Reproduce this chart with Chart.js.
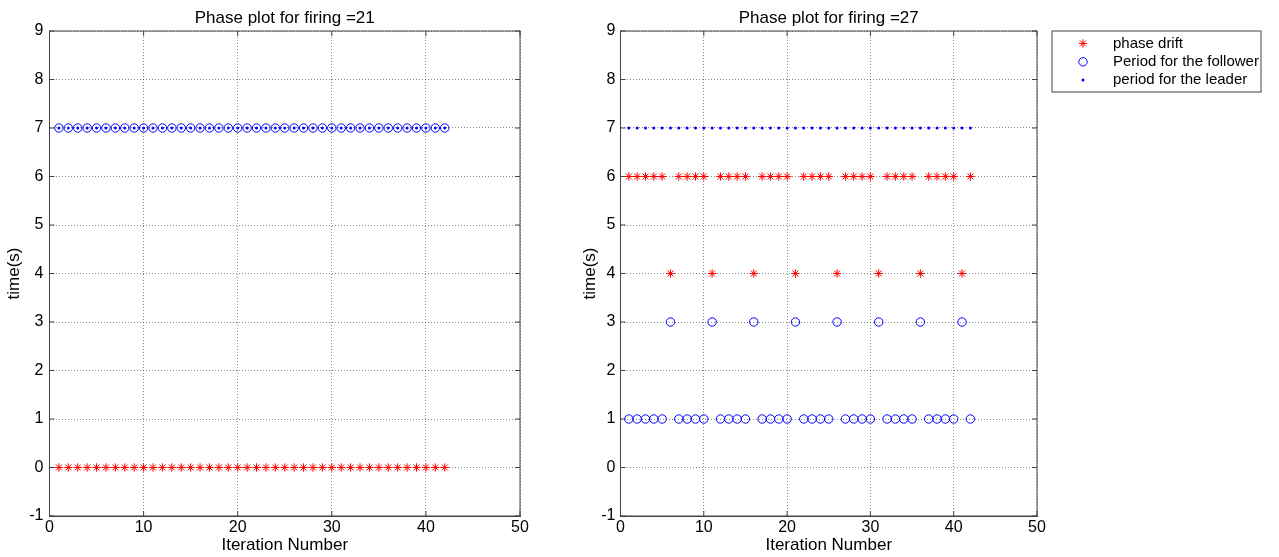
<!DOCTYPE html>
<html>
<head>
<meta charset="utf-8">
<script src="https://cdn.jsdelivr.net/npm/chart.js@4.4.1/dist/chart.umd.min.js"></script>
<style>
  body { margin: 0; background: #fff; }
  #wrap { position: relative; width: 1279px; height: 557px; }
  .panel { position: absolute; top: 0; height: 557px; }
  #left { left: 0; width: 560px; }
  #right { left: 560px; width: 719px; }
</style>
</head>
<body>
<div id="wrap">
  <div class="panel" id="left"><canvas id="leftChart"></canvas></div>
  <div class="panel" id="right"><canvas id="rightChart"></canvas></div>
</div>
<script>
// DATA
const iterations = [1,2,3,4,5,6,7,8,9,10,11,12,13,14,15,16,17,18,19,20,21,
                    22,23,24,25,26,27,28,29,30,31,32,33,34,35,36,37,38,39,40,41,42];
const xTicks = [0, 10, 20, 30, 40, 50];
const yTicks = [-1, 0, 1, 2, 3, 4, 5, 6, 7, 8, 9];

// firing = 21
const leftDrift = [0,0,0,0,0,0,0,0,0,0,0,0,0,0,0,0,0,0,0,0,0,
                   0,0,0,0,0,0,0,0,0,0,0,0,0,0,0,0,0,0,0,0,0];
const leftFollower = [7,7,7,7,7,7,7,7,7,7,7,7,7,7,7,7,7,7,7,7,7,
                      7,7,7,7,7,7,7,7,7,7,7,7,7,7,7,7,7,7,7,7,7];
const leftLeader = [7,7,7,7,7,7,7,7,7,7,7,7,7,7,7,7,7,7,7,7,7,
                    7,7,7,7,7,7,7,7,7,7,7,7,7,7,7,7,7,7,7,7,7];

// firing = 27
const rightDrift = [6,6,6,6,6,4, 6,6,6,6,4, 6,6,6,6,4, 6,6,6,6,4,
                    6,6,6,6,4, 6,6,6,6,4, 6,6,6,6,4, 6,6,6,6,4, 6];
const rightFollower = [1,1,1,1,1,3, 1,1,1,1,3, 1,1,1,1,3, 1,1,1,1,3,
                       1,1,1,1,3, 1,1,1,1,3, 1,1,1,1,3, 1,1,1,1,3, 1];
const rightLeader = [7,7,7,7,7,7,7,7,7,7,7,7,7,7,7,7,7,7,7,7,7,
                     7,7,7,7,7,7,7,7,7,7,7,7,7,7,7,7,7,7,7,7,7];

const seriesLabels = ['phase drift', 'Period for the follower', 'period for the leader'];

Chart.defaults.font.family = "'Liberation Sans', Arial, sans-serif";
Chart.defaults.color = '#000';

function points(ys) {
  return iterations.map(function(x, i) { return {x: x, y: ys[i]}; });
}

function makeDatasets(drift, follower, leader) {
  return [{
    label: seriesLabels[0],
    data: points(drift),
    pointStyle: 'star',
    pointRadius: 4.2,
    borderWidth: 1,
    borderColor: '#ff0000',
    backgroundColor: '#ff0000'
  }, {
    label: seriesLabels[1],
    data: points(follower),
    pointStyle: 'circle',
    pointRadius: 4.2,
    borderWidth: 1,
    borderColor: '#0000ff',
    backgroundColor: 'rgba(0,0,0,0)'
  }, {
    label: seriesLabels[2],
    data: points(leader),
    pointStyle: 'circle',
    pointRadius: 1.5,
    borderWidth: 0,
    borderColor: '#0000ff',
    backgroundColor: '#0000ff'
  }];
}

// box round the axes with inward ticks, like matlab
const boxPlugin = {
  id: 'matlabBox',
  afterDraw(chart) {
    const ctx = chart.ctx;
    const a = chart.chartArea;
    const x = chart.scales.x, y = chart.scales.y;
    ctx.save();
    ctx.strokeStyle = '#444';
    ctx.lineWidth = 1;
    ctx.strokeRect(a.left, a.top, a.right - a.left, a.bottom - a.top);
    ctx.beginPath();
    xTicks.forEach(function(v) {
      const px = x.getPixelForValue(v);
      ctx.moveTo(px, a.bottom); ctx.lineTo(px, a.bottom - 5);
      ctx.moveTo(px, a.top); ctx.lineTo(px, a.top + 5);
    });
    yTicks.forEach(function(v) {
      const py = y.getPixelForValue(v);
      ctx.moveTo(a.left, py); ctx.lineTo(a.left + 5, py);
      ctx.moveTo(a.right, py); ctx.lineTo(a.right - 5, py);
    });
    ctx.stroke();
    ctx.restore();
  }
};

// legend box to the right of the plot
const legendPlugin = {
  id: 'boxLegend',
  afterDraw(chart) {
    const ctx = chart.ctx;
    const a = chart.chartArea;
    const bx = a.right + 15, by = a.top, bw = 209, bh = 61;
    ctx.save();
    ctx.fillStyle = '#fff';
    ctx.fillRect(bx, by, bw, bh);
    ctx.strokeStyle = '#444';
    ctx.lineWidth = 1;
    ctx.strokeRect(bx, by, bw, bh);
    ctx.font = "15px 'Liberation Sans', Arial, sans-serif";
    ctx.textBaseline = 'middle';
    chart.data.datasets.forEach(function(ds, i) {
      const ry = by + 12.5 + i * 18.3;
      ctx.fillStyle = ds.backgroundColor;
      ctx.strokeStyle = ds.borderColor;
      ctx.lineWidth = ds.borderWidth;
      Chart.helpers.drawPoint(ctx, {
        pointStyle: ds.pointStyle, radius: ds.pointRadius,
        rotation: 0, borderWidth: ds.borderWidth
      }, bx + 31, ry);
      ctx.fillStyle = '#000';
      ctx.fillText(ds.label, bx + 61, ry);
    });
    ctx.restore();
  }
};

function makeOptions(titleText, yWidth, yTitlePad, yTickPad, padRight) {
  return {
    responsive: true,
    maintainAspectRatio: false,
    animation: false,
    layout: { padding: { left: 0, right: padRight, top: 0, bottom: 0 } },
    plugins: {
      legend: { display: false },
      tooltip: { enabled: false },
      title: {
        display: true,
        text: titleText,
        fullSize: false,
        font: { size: 17, weight: 'normal' },
        padding: { top: 8.6, bottom: 2 }
      }
    },
    scales: {
      x: {
        type: 'linear',
        min: 0,
        max: 50,
        afterBuildTicks: function(s) { s.ticks = xTicks.map(function(v) { return {value: v}; }); },
        afterFit: function(s) { s.height = 41; },
        grid: { color: 'rgba(0,0,0,0.45)', lineWidth: 1, drawTicks: false },
        border: { color: '#444', dash: [1, 2] },
        ticks: { padding: 2, font: { size: 16 }, maxRotation: 0 },
        title: { display: true, text: 'Iteration Number', font: { size: 17 }, padding: { top: 0, bottom: 1.7 } }
      },
      y: {
        type: 'linear',
        min: -1,
        max: 9,
        afterBuildTicks: function(s) { s.ticks = yTicks.map(function(v) { return {value: v}; }); },
        afterFit: function(s) { s.width = yWidth; },
        grid: { color: 'rgba(0,0,0,0.45)', lineWidth: 1, drawTicks: false },
        border: { color: '#444', dash: [1, 2] },
        ticks: { padding: yTickPad, font: { size: 16 } },
        title: { display: true, text: 'time(s)', font: { size: 17 }, padding: { top: yTitlePad, bottom: 0 } }
      }
    }
  };
}

new Chart(document.getElementById('leftChart'), {
  type: 'scatter',
  data: { datasets: makeDatasets(leftDrift, leftFollower, leftLeader) },
  options: makeOptions('Phase plot for firing =21', 49.5, 3.8, 6, 40),
  plugins: [boxPlugin]
});

new Chart(document.getElementById('rightChart'), {
  type: 'scatter',
  data: { datasets: makeDatasets(rightDrift, rightFollower, rightLeader) },
  options: makeOptions('Phase plot for firing =27', 60.5, 19.8, 5, 242),
  plugins: [boxPlugin, legendPlugin]
});
</script>
</body>
</html>
